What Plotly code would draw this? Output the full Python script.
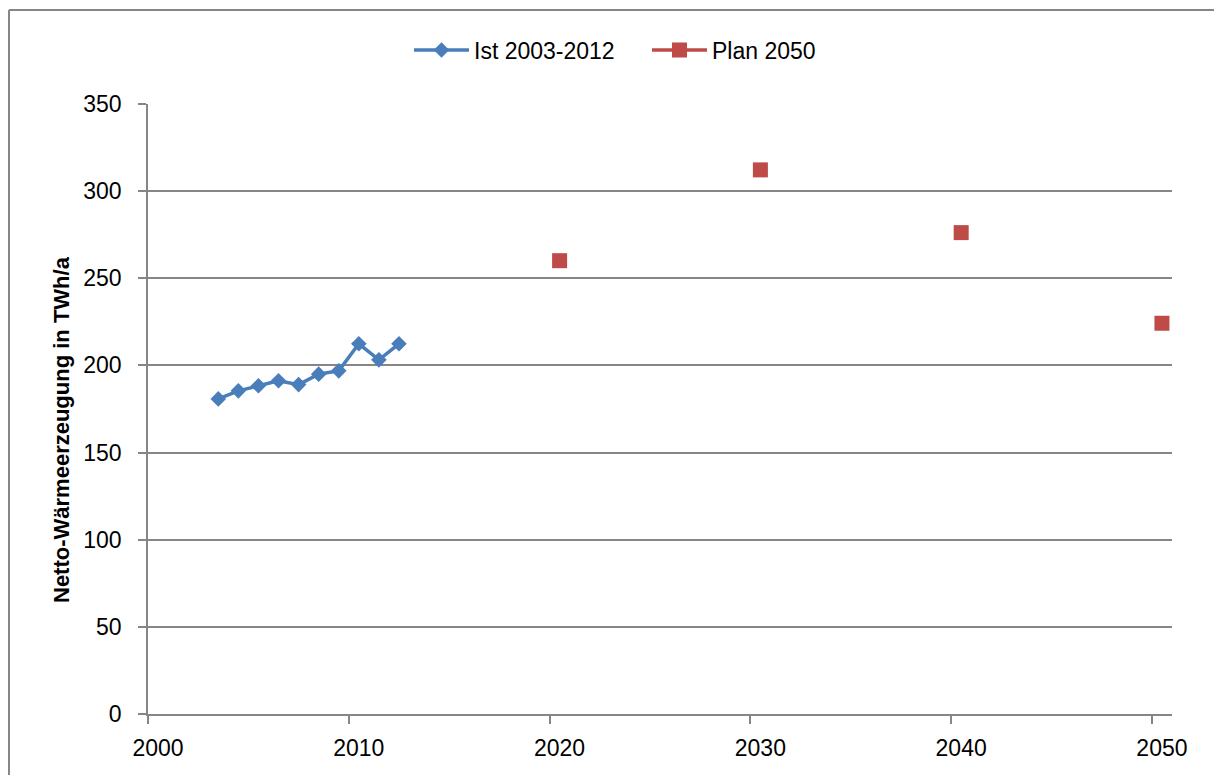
import plotly.graph_objects as go

# Actual net heat generation 2003-2012 (plotted at mid-year)
ist_years = [2003, 2004, 2005, 2006, 2007, 2008, 2009, 2010, 2011, 2012]
ist_values = [180.8, 185.4, 188.3, 191.2, 189.0, 195.0, 196.9, 212.4, 203.2, 212.4]

# Planned values up to 2050
plan_years = [2020, 2030, 2040, 2050]
plan_values = [260.1, 312.2, 276.2, 224.2]

x_ticks = [2000, 2010, 2020, 2030, 2040, 2050]

W, H = 1214, 775
L, R, T, B = 148, 42, 104, 61
PW, PH = W - L - R, H - T - B


def px_x(p):
    return (p - L) / PW


def px_y(p):
    return (H - B - p) / PH


GRID = "#868686"
FONT = "Liberation Sans, Arial, sans-serif"

fig = go.Figure()

fig.add_trace(go.Scatter(
    x=[y + 0.5 for y in ist_years],
    y=ist_values,
    mode="lines+markers",
    name="Ist 2003-2012",
    line=dict(color="#4a7ebb", width=3.5),
    marker=dict(symbol="diamond", size=12, color="#4a7ebb"),
))

# isolated points: gaps between them keep the line from joining them
plan_x, plan_y = [], []
for yr, v in zip(plan_years, plan_values):
    plan_x += [yr + 0.5, None]
    plan_y += [v, None]

fig.add_trace(go.Scatter(
    x=plan_x,
    y=plan_y,
    mode="lines+markers",
    name="Plan 2050",
    connectgaps=False,
    line=dict(color="#be4b48", width=3.5),
    marker=dict(symbol="square", size=15, color="#be4b48"),
))

fig.update_layout(
    width=W, height=H,
    margin=dict(l=L, r=R, t=T, b=B),
    paper_bgcolor="white",
    plot_bgcolor="white",
    font=dict(family=FONT, size=23, color="black"),
    showlegend=True,
    legend=dict(
        orientation="h",
        x=px_x(409), xanchor="left",
        y=px_y(50), yanchor="middle",
        font=dict(size=23),
        itemwidth=55,
        entrywidth=168,
        entrywidthmode="pixels",
        bgcolor="rgba(0,0,0,0)",
    ),
    xaxis=dict(
        range=[2000, 2051],
        tickvals=x_ticks,
        ticktext=[str(v) for v in x_ticks],
        showgrid=False,
        zeroline=False,
        showline=True,
        linecolor=GRID,
        linewidth=1.5,
        ticks="outside",
        ticklen=8,
        tickwidth=1.5,
        tickcolor=GRID,
        ticklabelshift=10,
        ticklabelstandoff=5,
    ),
    yaxis=dict(
        range=[0, 350],
        dtick=50,
        showgrid=True,
        gridcolor=GRID,
        gridwidth=1.5,
        zeroline=False,
        showline=True,
        linecolor=GRID,
        linewidth=1.5,
        ticks="outside",
        ticklen=8,
        tickwidth=1.5,
        tickcolor=GRID,
        ticklabelstandoff=12,
    ),
    annotations=[dict(
        text="<b>Netto-Wärmeerzeugung in TWh/a</b>",
        xref="paper", yref="paper",
        x=px_x(61), y=px_y(430),
        xanchor="center", yanchor="middle",
        textangle=-90,
        showarrow=False,
        font=dict(family=FONT, size=22, color="black"),
    )],
    shapes=[
        dict(type="line", xref="paper", yref="paper",
             x0=px_x(9), y0=px_y(790), x1=px_x(9), y1=px_y(10),
             line=dict(color=GRID, width=2)),
        dict(type="line", xref="paper", yref="paper",
             x0=px_x(9), y0=px_y(10), x1=px_x(1230), y1=px_y(10),
             line=dict(color=GRID, width=2)),
    ],
)

fig.write_html("out.html")
